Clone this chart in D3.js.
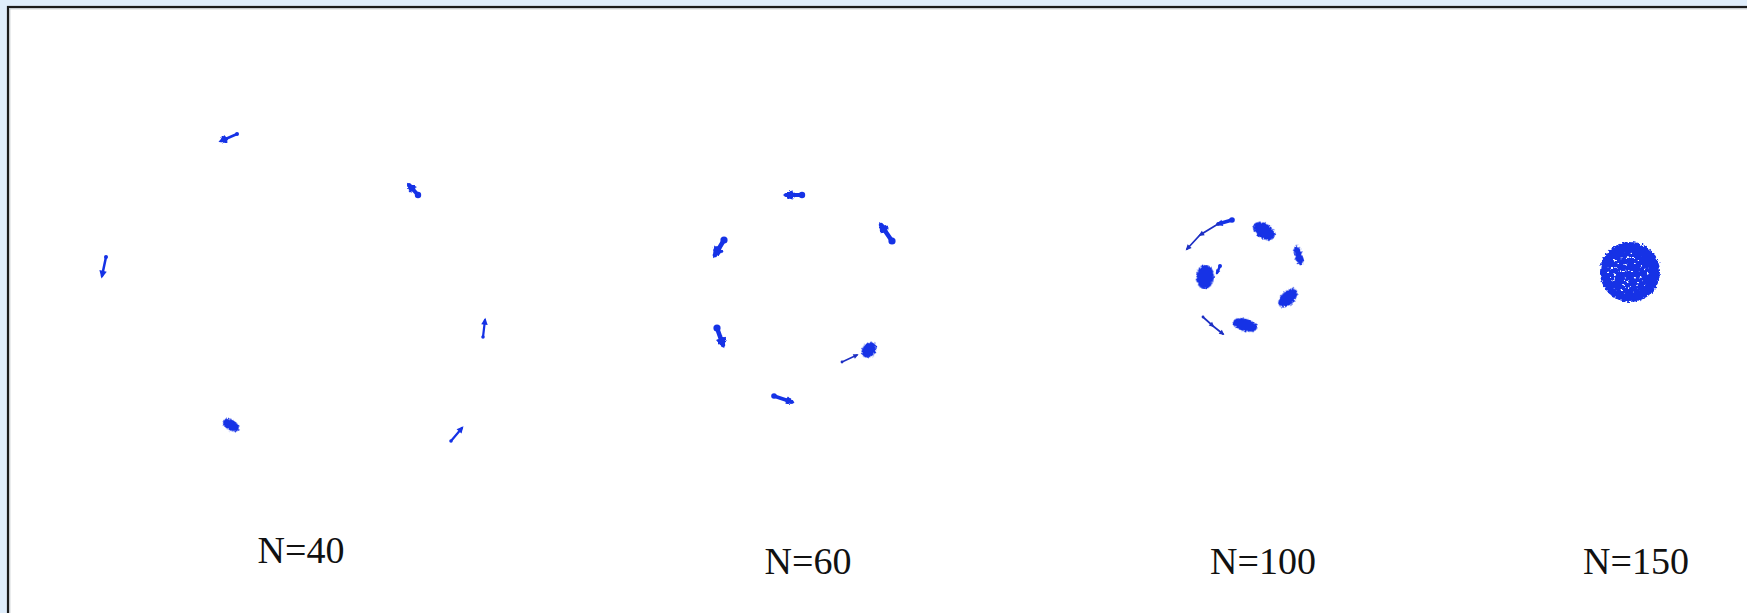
<!DOCTYPE html>
<html><head><meta charset="utf-8">
<script src="https://cdn.jsdelivr.net/npm/d3@7"></script>
<style>
html,body{margin:0;padding:0;background:#dfedfb;overflow:hidden;}
svg{display:block;}
</style></head><body>
<script>
// Swarm snapshots for increasing group size N. Coordinates are in swarm units, y up.
const panelLabels = ["N=40", "N=60", "N=100", "N=150"];

// Moving groups: trajectory points (tail -> head), head size and body width in swarm units
const trailsN40 = [
  {pts: [[-5.6, 15.4], [-7.2, 14.7]], head: 0.8, body: 0.25},
  {pts: [[12.5, 9.3], [11.6, 10.3]], head: 0.9, body: 0.4},
  {pts: [[-18.7, 3.1], [-19.1, 1.2]], head: 0.75, body: 0.25},
  {pts: [[19.0, -4.9], [19.2, -3.2]], head: 0.65, body: 0.22},
  {pts: [[15.8, -15.3], [16.9, -14.0]], head: 0.65, body: 0.22}
];
const blobsN40 = [
  {x: -6.2, y: -13.7, len: 1.8, wid: 1.05, ang: -32}
];

const trailsN60 = [
  {pts: [[-0.2, 10.3], [-1.8, 10.3]], head: 0.95, body: 0.4},
  {pts: [[8.8, 5.7], [7.7, 7.3]], head: 1.0, body: 0.45},
  {pts: [[-8.0, 5.8], [-8.9, 4.3]], head: 1.1, body: 0.45},
  {pts: [[-8.7, -3.0], [-8.1, -4.7]], head: 1.0, body: 0.45},
  {pts: [[3.8, -6.4], [5.3, -5.7]], head: 0.5, body: 0.13},
  {pts: [[-3.0, -9.8], [-1.2, -10.4]], head: 0.8, body: 0.35}
];
const blobsN60 = [
  {x: 6.5, y: -5.2, len: 1.7, wid: 1.3, ang: 50}
];

const trailsN100 = [
  {pts: [[-1.3, 5.7], [-2.7, 5.3]], head: 0.65, body: 0.35},
  {pts: [[-2.7, 5.3], [-4.5, 4.2], [-5.8, 2.8]], head: 0.55, body: 0.17},
  {pts: [[-2.5, 1.1], [-2.8, 0.4]], head: 0.45, body: 0.25},
  {pts: [[-4.2, -4.0], [-3.2, -4.9], [-2.2, -5.7]], head: 0.5, body: 0.17}
];
const blobsN100 = [
  {x: 1.9, y: 4.6, len: 2.4, wid: 1.5, ang: -33},
  {x: 5.35, y: 2.15, len: 2.0, wid: 0.8, ang: -74},
  {x: -4.0, y: 0.0, len: 2.4, wid: 1.8, ang: 85},
  {x: 4.3, y: -2.1, len: 2.3, wid: 1.35, ang: 45},
  {x: 0.0, y: -4.8, len: 2.5, wid: 1.25, ang: -14}
];

const trailsN150 = [];
const blobsN150 = [];
const disksN150 = [{x: 0, y: 0, r: 3.0}];

const panels = [
  {label: panelLabels[0], trails: trailsN40, blobs: blobsN40, disks: []},
  {label: panelLabels[1], trails: trailsN60, blobs: blobsN60, disks: []},
  {label: panelLabels[2], trails: trailsN100, blobs: blobsN100, disks: []},
  {label: panelLabels[3], trails: trailsN150, blobs: blobsN150, disks: disksN150}
];

// Page layout
const W = 1747, H = 613;
const unitPx = 10;
const frames = [
  {ox: 293, oy: 288, lx: 301, ly: 563},
  {ox: 804, oy: 298, lx: 808, ly: 574},
  {ox: 1245, oy: 277, lx: 1263, ly: 574},
  {ox: 1630, oy: 272, lx: 1636, ly: 574}
];
const BLUE = "#1532e6";
const LINE = "#1d2fc4";

const svg = d3.select("body").append("svg").attr("width", W).attr("height", H);

const defs = svg.append("defs");
const rough = defs.append("filter").attr("id", "rough")
  .attr("x", "-30%").attr("y", "-30%").attr("width", "160%").attr("height", "160%");
rough.append("feTurbulence").attr("type", "fractalNoise").attr("baseFrequency", 0.55)
  .attr("numOctaves", 2).attr("seed", 4).attr("result", "n");
rough.append("feDisplacementMap").attr("in", "SourceGraphic").attr("in2", "n")
  .attr("scale", 4).attr("xChannelSelector", "R").attr("yChannelSelector", "G");

const roughDisk = defs.append("filter").attr("id", "roughDisk")
  .attr("x", "-30%").attr("y", "-30%").attr("width", "160%").attr("height", "160%");
roughDisk.append("feTurbulence").attr("type", "fractalNoise").attr("baseFrequency", 0.4)
  .attr("numOctaves", 2).attr("seed", 9).attr("result", "n");
roughDisk.append("feDisplacementMap").attr("in", "SourceGraphic").attr("in2", "n")
  .attr("scale", 5).attr("xChannelSelector", "R").attr("yChannelSelector", "G");

const holes = defs.append("filter").attr("id", "holes")
  .attr("x", "-10%").attr("y", "-10%").attr("width", "120%").attr("height", "120%");
holes.append("feTurbulence").attr("type", "fractalNoise").attr("baseFrequency", 0.3)
  .attr("numOctaves", 2).attr("seed", 7).attr("result", "n");
holes.append("feColorMatrix").attr("in", "n").attr("type", "matrix")
  .attr("values", "0 0 0 0 1  0 0 0 0 1  0 0 0 0 1  -16 0 0 0 5.6").attr("result", "m");
holes.append("feComposite").attr("in", "m").attr("in2", "SourceGraphic").attr("operator", "in");

// Frame
svg.append("rect").attr("x", 8).attr("y", 7).attr("width", W + 40).attr("height", H + 40)
  .attr("fill", "#ffffff").attr("stroke", "#1b1b1b").attr("stroke-width", 2.2);
svg.append("rect").attr("x", 9.8).attr("y", 8.8).attr("width", W + 40).attr("height", H + 40)
  .attr("fill", "none").attr("stroke", "#b9bec4").attr("stroke-width", 1);

panels.forEach((p, i) => {
  const f = frames[i];
  const x = d3.scaleLinear().domain([0, 1]).range([f.ox, f.ox + unitPx]);
  const y = d3.scaleLinear().domain([0, 1]).range([f.oy, f.oy - unitPx]);
  const k = x(1) - x(0);
  const g = svg.append("g");

  // blobs: dense particle clusters
  g.selectAll("ellipse.blob").data(p.blobs).join("ellipse")
    .attr("class", "blob")
    .attr("cx", 0).attr("cy", 0)
    .attr("rx", d => d.len * k / 2).attr("ry", d => d.wid * k / 2)
    .attr("transform", d => `translate(${x(d.x)},${y(d.y)}) rotate(${-d.ang})`)
    .attr("fill", BLUE)
    .attr("filter", "url(#rough)");

  // trails: moving groups with arrow heads
  p.trails.forEach(t => {
    const pts = t.pts.map(q => [x(q[0]), y(q[1])]);
    const thin = t.body < 0.2;
    const col = thin ? LINE : BLUE;
    const bw = Math.max(1.5, t.body * k);
    g.append("path")
      .attr("d", d3.line()(pts))
      .attr("fill", "none").attr("stroke", col)
      .attr("stroke-width", bw).attr("stroke-linecap", "round");
    // tail dot
    g.append("circle").attr("cx", pts[0][0]).attr("cy", pts[0][1])
      .attr("r", Math.max(1.4, bw * 0.8)).attr("fill", col);
    // heads at each later point
    for (let j = 1; j < pts.length; j++) {
      const a = pts[j - 1], b = pts[j];
      const ang = Math.atan2(b[1] - a[1], b[0] - a[0]);
      const hs = t.head * k;
      const tip = [b[0] + Math.cos(ang) * hs * 0.35, b[1] + Math.sin(ang) * hs * 0.35];
      const back = [b[0] - Math.cos(ang) * hs * 0.7, b[1] - Math.sin(ang) * hs * 0.7];
      const nx = -Math.sin(ang), ny = Math.cos(ang);
      const tri = [tip,
        [back[0] + nx * hs * 0.5, back[1] + ny * hs * 0.5],
        [back[0] - nx * hs * 0.5, back[1] - ny * hs * 0.5]];
      g.append("path").attr("d", d3.line()(tri) + "Z").attr("fill", col);
      if (t.head >= 0.8) {
        g.append("circle").attr("cx", back[0] + Math.cos(ang) * hs * 0.25)
          .attr("cy", back[1] + Math.sin(ang) * hs * 0.25)
          .attr("r", hs * 0.4).attr("fill", BLUE).attr("filter", "url(#rough)");
      }
    }
  });

  // disks: fully aggregated swarm
  g.selectAll("circle.disk").data(p.disks).join("circle")
    .attr("class", "disk")
    .attr("cx", d => x(d.x)).attr("cy", d => y(d.y)).attr("r", d => d.r * k)
    .attr("fill", BLUE).attr("filter", "url(#roughDisk)");
  g.selectAll("circle.gap").data(p.disks).join("circle")
    .attr("class", "gap")
    .attr("cx", d => x(d.x) - 2).attr("cy", d => y(d.y) + 1).attr("r", d => d.r * k * 0.7)
    .attr("fill", "#ffffff").attr("filter", "url(#holes)");

  svg.append("text").attr("x", f.lx).attr("y", f.ly)
    .attr("text-anchor", "middle")
    .attr("font-family", "'Liberation Serif', 'DejaVu Serif', serif")
    .attr("font-size", 38).attr("fill", "#111111")
    .text(p.label);
});
</script>
</body></html>
